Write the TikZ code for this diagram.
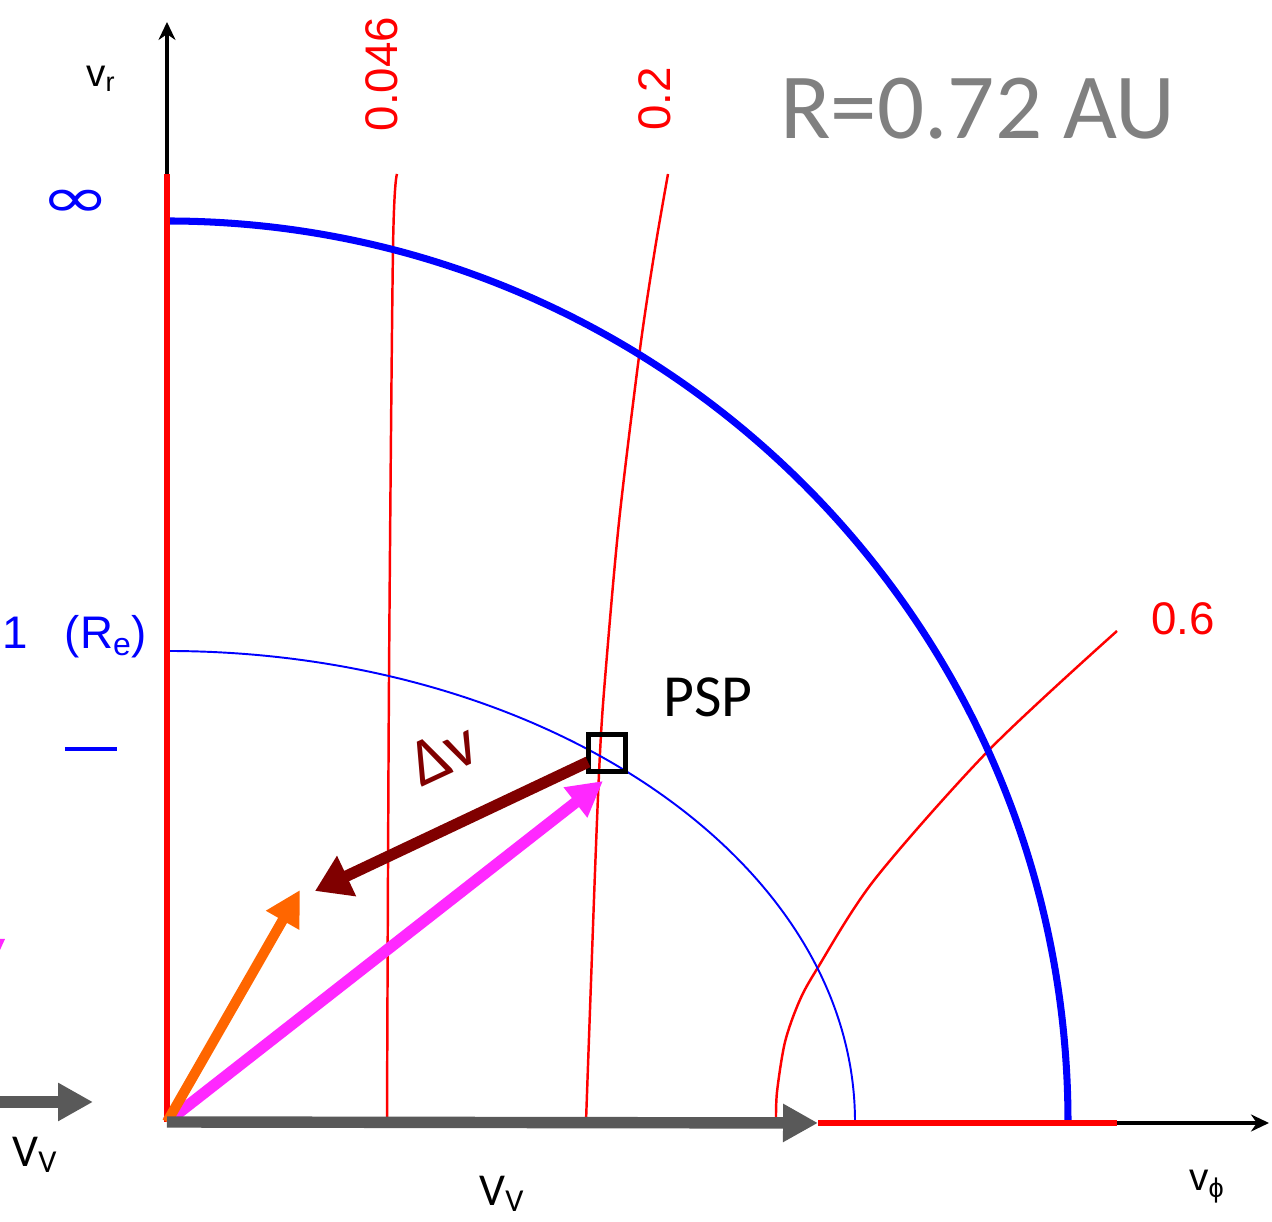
\documentclass[tikz,border=0pt]{standalone}
\usepackage{fontspec}
\setmainfont{Carlito}
\newfontfamily\pixfont{Liberation Sans}
\newfontfamily\simbfont{DejaVu Sans}
\usepackage{tikz}
\usetikzlibrary{arrows.meta}
\definecolor{corazul}{RGB}{0,0,255}
\definecolor{corvermelho}{RGB}{255,0,0}
\definecolor{cormagenta}{RGB}{255,40,255}
\definecolor{corlaranja}{RGB}{255,102,0}
\definecolor{corvinho}{RGB}{128,0,0}
\definecolor{corchumbo}{RGB}{89,89,89}
\definecolor{corcinza}{RGB}{128,128,128}

\begin{document}
\begin{tikzpicture}[
  x=0.02cm, y=0.02cm,
  eixo/.style={line width=2.4pt, -{Stealth[length=0.36cm, width=0.34cm]}},
  curva/.style={draw=corvermelho, line width=1.4pt},
  seta/.style={line width=6.5pt, -{Triangle[length=0.7cm, width=0.72cm]}},
  rotulo/.style={font=\pixfont\fontsize{26}{30}\selectfont, inner sep=0pt},
  texto/.style={font=\fontsize{26}{30}\selectfont, inner sep=0pt}
]
  \useasboundingbox (-167,-100) rectangle (1105,1122);

  % pontos principais
  \coordinate (O) at (0,0);
  \coordinate (ytopo) at (0,948);
  \coordinate (yseta) at (0,1100);
  \coordinate (vvtip) at (651,-1);
  \coordinate (xverm) at (950,-1);
  \coordinate (xseta) at (1102,-1);

  % curvas de excentricidade
  \draw[curva] plot[smooth] coordinates {(220,0) (222,443) (226,873) (230,948)};
  \draw[curva] plot[smooth] coordinates {(419,0) (428,250) (433,369) (438,443) (452,600) (473,773) (488,873) (501,948)};
  \draw[curva] plot[smooth] coordinates {(609,0) (610,30) (618,80) (632,120) (650,153) (708,243) (823,373) (950,491)};

  % curvas de energia
  \draw[corazul, line width=4pt] (0,901) arc[start angle=90, end angle=0, radius=901];
  \draw[corazul, line width=1.1pt] (0,471) arc[start angle=90, end angle=0, x radius=688, y radius=471];

  % eixos
  \draw[corvermelho, line width=3.4pt] (O) -- (ytopo);
  \draw[eixo] (ytopo) -- (yseta);
  \draw[corvermelho, line width=3.4pt] (vvtip) -- (xverm);
  \draw[eixo, line width=2pt] (xverm) -- (xseta);

  \node[rotulo, text=corvermelho, rotate=90] (lbl046) at (215,1048) {0.046};
  \node[rotulo, text=corvermelho, rotate=90] (lbl02) at (488,1023) {0.2};
  \node[rotulo, text=corvermelho] (lbl06) at (1016,503) {0.6};
  \node[rotulo, font=\pixfont\fontsize{22}{26}\selectfont] (vr) at (-66,1043) {v\textsubscript{r}};
  \node[rotulo, font=\pixfont\fontsize{22}{26}\selectfont] (vphi) at (1040,-65) {v\textsubscript{ϕ}};
  \node[text=corazul, inner sep=0pt, xscale=1.5, font=\simbfont\fontsize{32}{32}\selectfont] (infinito) at (-91,918) {∞};
  \node[rotulo, text=corazul] (re) at (-92,485) {1\hspace{0.8em}(R\textsubscript{e})};
  \draw[corazul, line width=2.8pt] (-102,373) -- (-50,373);

  \node[text=corcinza, inner sep=0pt, font=\fontsize{53}{60}\selectfont] (titulo) at (811,1013) {R=0.72 AU};

  % sonda
  \node[draw, line width=2.8pt, minimum size=0.74cm, inner sep=0pt] (psp) at (440,369) {};
  \node[texto, font=\fontsize{34}{40}\selectfont] (psplbl) at (541,425) {PSP};

  \coordinate (vsc) at (436,341);
  \coordinate (vlar) at (133,232);
  \coordinate (dvini) at (421,360);
  \coordinate (dvfim) at (148,231);
  \coordinate (vvini) at (-175,20);
  \coordinate (vvfim) at (-74,20);

  \draw[seta, cormagenta] (O) -- (vsc);
  \draw[seta, corlaranja, line width=5.8pt] (O) -- (vlar);
  \draw[seta, corvinho, -{Triangle[length=0.7cm, width=0.85cm]}] (dvini) -- (dvfim);
  \draw[seta, corchumbo] (O) -- (vvtip);
  \draw[seta, corchumbo] (vvini) -- (vvfim);
  \fill[cormagenta] (-167,183) -- (-162,183) -- (-167,172) -- cycle;

  \node[texto, text=corvinho, rotate=25, font=\fontsize{38}{40}\selectfont] (dvlbl) at (276,368) {Δv};
  \node[texto] (vvesq) at (-132,-33) {V\textsubscript{V}};
  \node[texto] (vvbaixo) at (335,-72) {V\textsubscript{V}};
\end{tikzpicture}
\end{document}
